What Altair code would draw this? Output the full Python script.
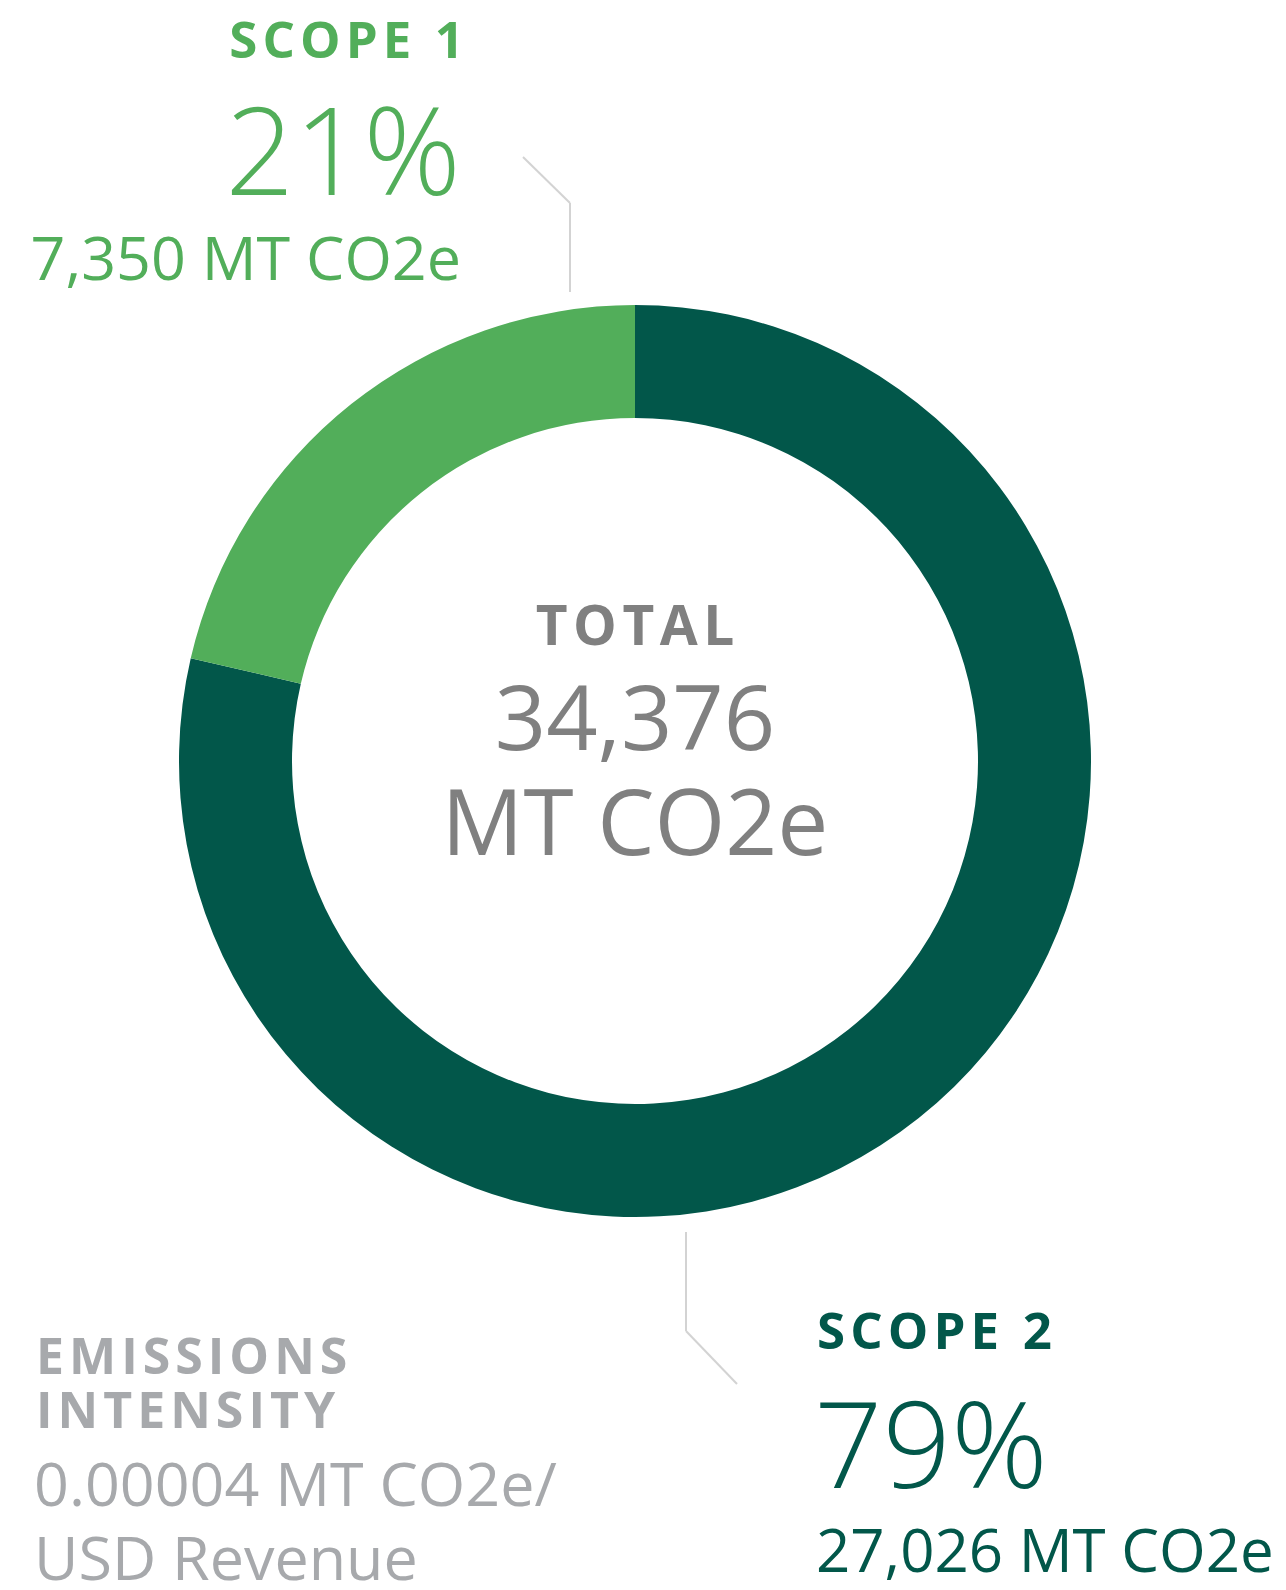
import altair as alt
import pandas as pd

# ---- data ----
scopes = ["Scope 2", "Scope 1"]
emissions = [27026, 7350]
stack_order = [0, 1]
total_label = "34,376"
unit_label = "MT CO2e"
scope1_pct = "21%"
scope1_val = "7,350 MT CO2e"
scope2_pct = "79%"
scope2_val = "27,026 MT CO2e"
intensity_lines = ["0.00004 MT CO2e/", "USD Revenue"]

LIGHT = "#52AE5A"
DARK = "#02574A"
GRAY = "#808080"
LGRAY = "#A7A9AC"
LINE = "#D3D3D3"
FONT = "Open Sans"
HS = "\u200a"


def spaced(s):
    return HS.join(list(s))


W, H = 1270, 1574
CX, CY = 627, 753

df = pd.DataFrame({"scope": scopes, "value": emissions, "ord": stack_order})

donut = alt.Chart(df).mark_arc(radius=456, radius2=343).encode(
    theta=alt.Theta("value:Q", stack=True),
    order=alt.Order("ord:Q"),
    color=alt.Color("scope:N", scale=alt.Scale(domain=["Scope 1", "Scope 2"], range=[LIGHT, DARK]), legend=None),
    x=alt.value(CX),
    y=alt.value(CY),
)


def txt(s, x, y, size, color, weight=400, align="left"):
    return alt.Chart(pd.DataFrame({"t": [s]})).mark_text(
        font=FONT, fontSize=size, fontWeight=weight, color=color, align=align, baseline="alphabetic"
    ).encode(text="t:N", x=alt.value(x), y=alt.value(y))


def seg(x1, y1, x2, y2):
    return alt.Chart(pd.DataFrame({"a": [0]})).mark_rule(color=LINE, strokeWidth=2).encode(
        x=alt.value(x1), y=alt.value(y1), x2=alt.value(x2), y2=alt.value(y2)
    )


layers = [
    donut,
    txt(spaced("SCOPE 1"), 456, 50, 51, LIGHT, 700, "right"),
    txt(scope1_pct, 453, 187, 121, LIGHT, 300, "right"),
    txt(scope1_val, 453, 272, 61, LIGHT, 400, "right"),
    txt(spaced("TOTAL"), 627, 637, 55, GRAY, 700, "center"),
    txt(total_label, 627, 742, 90, GRAY, 400, "center"),
    txt(unit_label, 627, 847, 91, GRAY, 400, "center"),
    txt(spaced("SCOPE 2"), 809, 1341, 51, DARK, 700, "left"),
    txt(scope2_pct, 806, 1480, 120, DARK, 300, "left"),
    txt(scope2_val, 808, 1564, 60, DARK, 400, "left"),
    txt(spaced("EMISSIONS"), 28, 1366, 50, LGRAY, 700, "left"),
    txt(spaced("INTENSITY"), 28, 1420, 50, LGRAY, 700, "left"),
    txt(intensity_lines[0], 26, 1498, 61, LGRAY, 400, "left"),
    txt(intensity_lines[1], 26, 1572, 61, LGRAY, 400, "left"),
    seg(515, 149, 562, 195),
    seg(562, 195, 562, 284),
    seg(678, 1224, 678, 1323),
    seg(678, 1323, 729, 1376),
]

chart = alt.layer(*layers).properties(
    width=W, height=H, autosize=alt.AutoSizeParams(type="none"), padding=0
).configure(background="white", view=alt.ViewConfig(stroke=None))

chart.save("out.html", embed_options={"renderer": "svg", "actions": False})
